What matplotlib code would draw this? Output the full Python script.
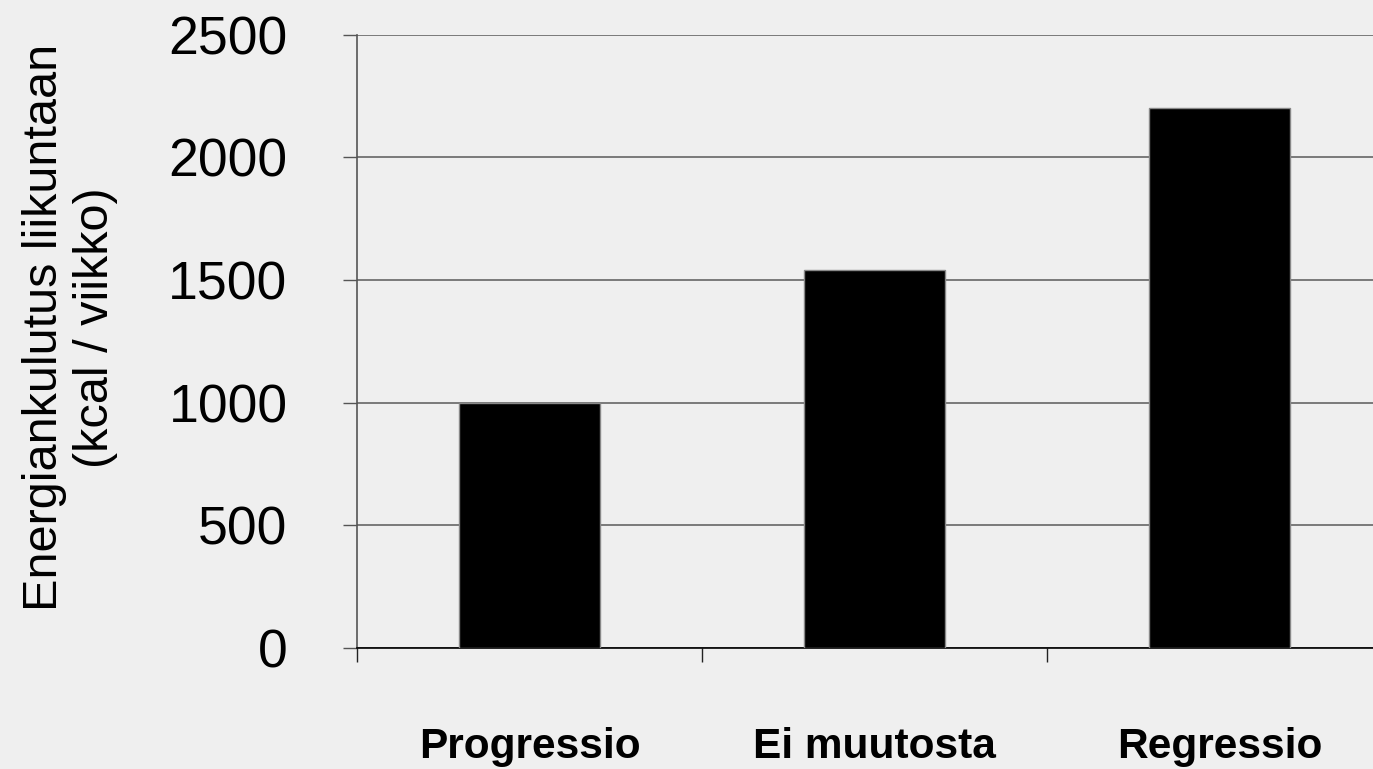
import matplotlib
matplotlib.use('Agg')
import matplotlib.pyplot as plt
import numpy as np

groups = ['Progressio', 'Ei muutosta', 'Regressio']
kcal_per_week = [1000, 1540, 2200]
y_ticks = [0, 500, 1000, 1500, 2000, 2500]

plt.rcParams['font.family'] = ['Liberation Sans', 'DejaVu Sans']

bg = '#efefef'
fig = plt.figure(figsize=(13.73, 7.69), dpi=100, facecolor=bg)
# the plot area runs a little past the right edge of the figure
ax = fig.add_axes([0.26, 0.1573, 0.7538, 0.7977], facecolor=bg)

x = np.arange(len(groups))
ax.bar(x, kcal_per_week, width=0.41, color='black', edgecolor='#888888',
       linewidth=1, zorder=3)

ax.set_xlim(-0.5, 2.5)
ax.set_ylim(0, 2500)

ax.set_yticks(y_ticks)
ax.set_yticklabels([str(v) for v in y_ticks], fontsize=38.5)
ax.yaxis.grid(True, color='#666666', linewidth=1.2, zorder=1)
ax.tick_params(axis='y', direction='out', length=10, width=1,
               color='#555555', pad=40)

# group names centred under bars, separator ticks between groups
ax.set_xticks(x)
ax.set_xticklabels(groups, fontsize=30.5, fontweight='bold')
ax.tick_params(axis='x', which='major', length=0, pad=57)
ax.set_xticks(np.arange(-0.5, 3.0, 1.0), minor=True)
ax.tick_params(axis='x', which='minor', direction='out', length=10,
               width=1, color='#222222')

for side in ['top', 'right']:
    ax.spines[side].set_visible(False)
ax.spines['left'].set_color('#555555')
ax.spines['left'].set_linewidth(1.2)
ax.spines['bottom'].set_color('black')
ax.spines['bottom'].set_linewidth(1.2)

fig.text(0.051, 0.574, 'Energiankulutus liikuntaan\n(kcal / viikko)',
         rotation=90, ha='center', va='center', fontsize=35,
         linespacing=1.15)

fig.savefig('out.png', dpi=100, facecolor=bg)
